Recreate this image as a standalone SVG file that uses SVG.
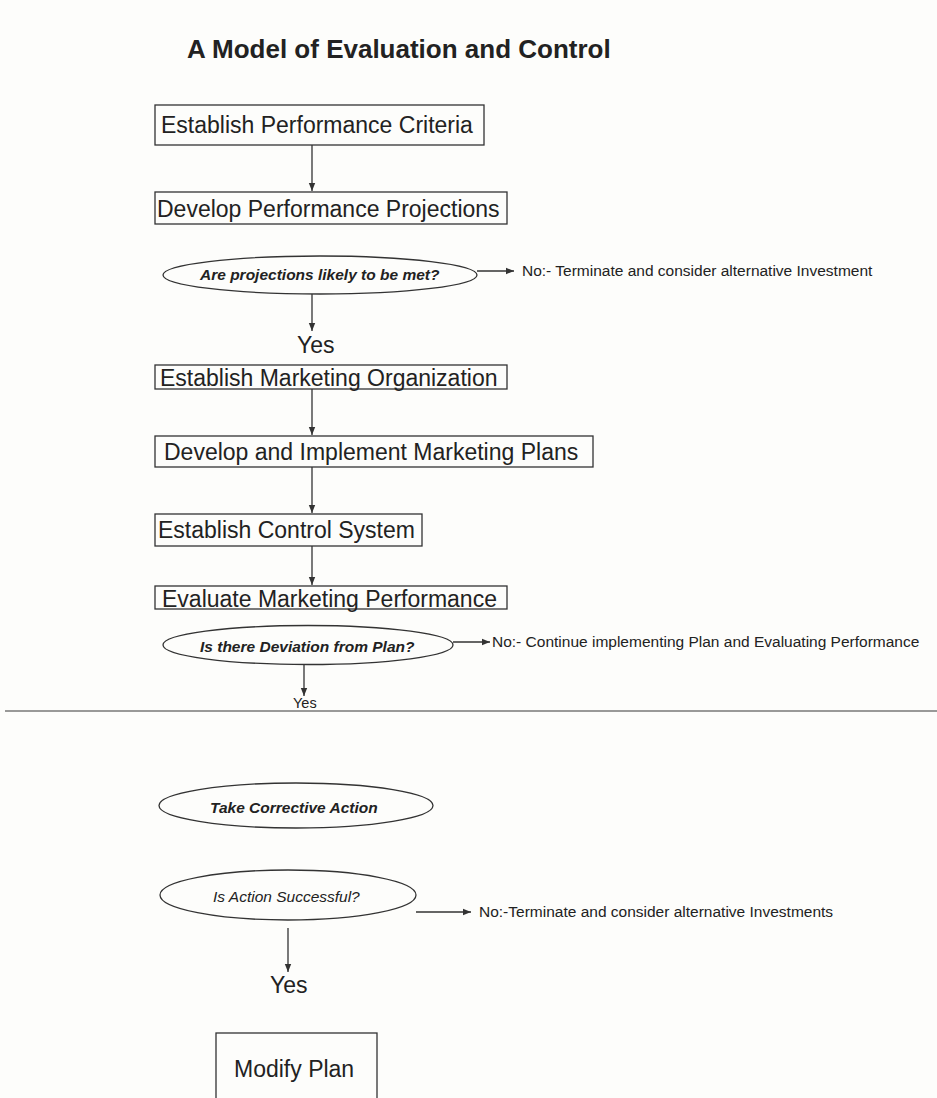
<svg xmlns="http://www.w3.org/2000/svg" width="937" height="1098" viewBox="0 0 937 1098">
<style>
text{font-family:"Liberation Sans",Arial,sans-serif;fill:#222}
.box{fill:none;stroke:#333;stroke-width:1.3}
.ell{fill:none;stroke:#333;stroke-width:1.3}
.bt{font-size:23px}
.q{font-size:15.5px;font-weight:bold;font-style:italic}
.qi{font-size:15.5px;font-style:italic}
.no{font-size:15.5px}
.conn line{stroke:#333;stroke-width:1.3;marker-end:url(#ah)}
</style>
<defs>
<marker id="ah" viewBox="0 0 10 10" refX="10" refY="5" markerWidth="8" markerHeight="8" markerUnits="userSpaceOnUse" orient="auto">
<path d="M0,1 L10,5 L0,9 Z" fill="#333"/>
</marker>
</defs>
<rect width="937" height="1098" fill="#fdfdfb"/>
<text id="title" x="187" y="58" font-size="26" font-weight="bold">A Model of Evaluation and Control</text>
<g id="n1"><rect class="box" x="155" y="105" width="329" height="40"/><text class="bt" x="161" y="133">Establish Performance Criteria</text></g>
<g id="n2"><rect class="box" x="155" y="192" width="352" height="32"/><text class="bt" x="157" y="217">Develop Performance Projections</text></g>
<g id="n3"><ellipse class="ell" cx="320" cy="275" rx="157" ry="19"/><text class="q" x="200" y="280">Are projections likely to be met?</text></g>
<g id="n3no"><text class="no" x="522" y="276">No:- Terminate and consider alternative Investment</text></g>
<g id="y1"><text class="bt" x="297" y="353">Yes</text></g>
<g id="n4"><rect class="box" x="155" y="365" width="352" height="24"/><text class="bt" x="160" y="386">Establish Marketing Organization</text></g>
<g id="n5"><rect class="box" x="155" y="436" width="438" height="31"/><text class="bt" x="164" y="460">Develop and Implement Marketing Plans</text></g>
<g id="n6"><rect class="box" x="155" y="514" width="267" height="32"/><text class="bt" x="158" y="538">Establish Control System</text></g>
<g id="n7"><rect class="box" x="155" y="586" width="352" height="23"/><text class="bt" x="162" y="607">Evaluate Marketing Performance</text></g>
<g id="n8"><ellipse class="ell" cx="308" cy="645" rx="145" ry="19.5"/><text class="q" x="200" y="652">Is there Deviation from Plan?</text></g>
<g id="n8no"><text class="no" x="492" y="647">No:- Continue implementing Plan and Evaluating Performance</text></g>
<g id="y2"><text x="293" y="708" font-size="14.5">Yes</text></g>
<line x1="5" y1="711" x2="937" y2="711" stroke="#777" stroke-width="1.5"/>
<g id="n9"><ellipse class="ell" cx="296" cy="805.5" rx="137" ry="22.5"/><text class="q" x="210" y="813">Take Corrective Action</text></g>
<g id="n10"><ellipse class="ell" cx="288" cy="895" rx="128" ry="25"/><text class="qi" x="213" y="902">Is Action Successful?</text></g>
<g id="n10no"><text class="no" x="479" y="917">No:-Terminate and consider alternative Investments</text></g>
<g id="y3"><text class="bt" x="270" y="993">Yes</text></g>
<g id="n11"><rect class="box" x="216" y="1033" width="161" height="80"/><text class="bt" x="234" y="1077">Modify Plan</text></g>
<g class="conn" id="connectors">
<line x1="312" y1="145" x2="312" y2="191"/>
<line x1="477" y1="271" x2="514" y2="271"/>
<line x1="312" y1="294" x2="312" y2="331"/>
<line x1="312" y1="389" x2="312" y2="435"/>
<line x1="312" y1="467" x2="312" y2="513"/>
<line x1="312" y1="546" x2="312" y2="585"/>
<line x1="453" y1="642" x2="490" y2="642"/>
<line x1="304" y1="665" x2="304" y2="696"/>
<line x1="416" y1="912" x2="471" y2="912"/>
<line x1="288" y1="928" x2="288" y2="972"/>
</g>
</svg>
